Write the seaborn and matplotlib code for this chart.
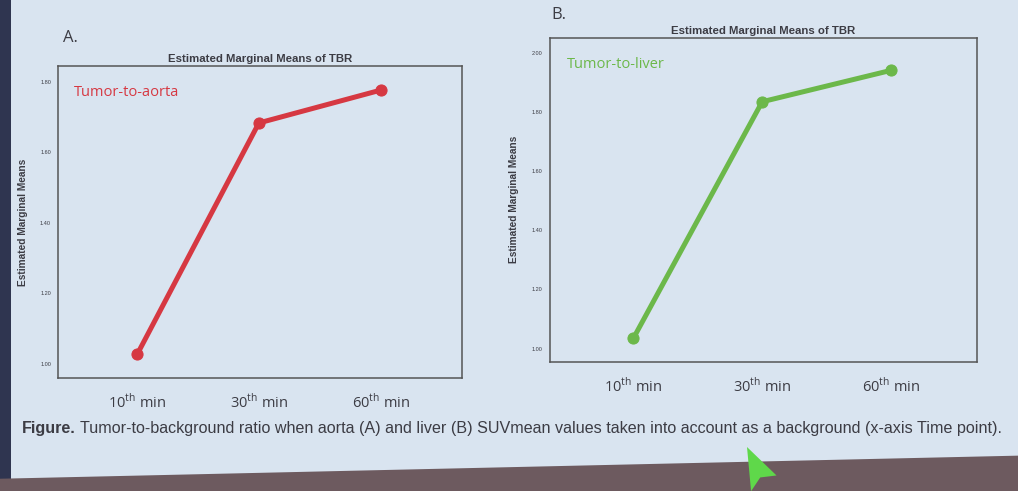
import numpy as np
import pandas as pd
import matplotlib
matplotlib.use("Agg")
import matplotlib.pyplot as plt
from matplotlib.patches import Polygon
import seaborn as sns

# data
time_points = [r"10$^{\mathrm{th}}$ min", r"30$^{\mathrm{th}}$ min", r"60$^{\mathrm{th}}$ min"]
aorta_tbr = [1.027, 1.683, 1.776]
liver_tbr = [1.035, 1.834, 1.940]
aorta_ticks = [1.00, 1.20, 1.40, 1.60, 1.80]
liver_ticks = [1.00, 1.20, 1.40, 1.60, 1.80, 2.00]

sns.set_style("white")
plt.rcParams['font.family'] = ['Liberation Sans', 'DejaVu Sans']
plt.rcParams['mathtext.fontset'] = 'custom'
plt.rcParams['mathtext.rm'] = 'Open Sans'

bg = "#d9e4f0"
red = "#d63842"
green = "#6cb84a"
txt = "#3c3c44"

fig = plt.figure(figsize=(10.18, 4.91), dpi=100)
fig.patch.set_facecolor(bg)

# photo borders: dark left edge and brown bottom edge
fig.patches.append(Polygon([[0, 0], [0.011, 0], [0.011, 1], [0, 1]], closed=True,
                           transform=fig.transFigure, facecolor="#2f3550", edgecolor="none"))
fig.patches.append(Polygon([[0, 0], [1, 0], [1, 0.072], [0, 0.025]], closed=True,
                           transform=fig.transFigure, facecolor="#6d5a5f", edgecolor="none"))
# mouse pointer
px, py = 747 / 1018, 1 - 447 / 491
fig.patches.append(Polygon([[px, py], [px + 0.004, py - 0.09], [px + 0.013, py - 0.062],
                            [px + 0.029, py - 0.058]], closed=True,
                           transform=fig.transFigure, facecolor="#5fd84a", edgecolor="none"))


def panel(rect, values, ticks, ylim, color, label):
    ax = fig.add_axes(rect)
    ax.set_facecolor(bg)
    df = pd.DataFrame({"time": np.arange(len(time_points)), "TBR": values})
    sns.lineplot(data=df, x="time", y="TBR", ax=ax, color=color, linewidth=3.6,
                 marker="o", markersize=8, markeredgecolor=color)
    ax.set_xlim(-0.65, 2.67)
    ax.set_ylim(*ylim)
    ax.set_xticks(range(len(time_points)))
    ax.set_xticklabels(time_points, fontsize=10.5, color=txt, family="Open Sans")
    ax.set_yticks(ticks)
    ax.set_yticklabels([f"{t:.2f}" for t in ticks], fontsize=4, color=txt)
    ax.tick_params(axis="x", length=4, pad=7, color="#555")
    ax.tick_params(axis="y", length=4, pad=1, color="#555")
    for s in ax.spines.values():
        s.set_color("#555")
        s.set_linewidth(1.1)
    ax.set_xlabel("")
    ax.set_ylabel("Estimated Marginal Means", fontsize=7.3, fontweight="bold", color=txt, labelpad=9)
    ax.set_title("Estimated Marginal Means of TBR", fontsize=8.2, fontweight="bold", color=txt, pad=3)
    ax.text(0.04, 0.94, label, transform=ax.transAxes, color=color, fontsize=10.5,
            va="top", family="Open Sans")
    return ax


panel([0.057, 0.230, 0.397, 0.636], aorta_tbr, aorta_ticks, (0.96, 1.845), red, "Tumor-to-aorta")
panel([0.540, 0.263, 0.420, 0.660], liver_tbr, liver_ticks, (0.955, 2.05), green, "Tumor-to-liver")

fig.text(63 / 1018, 1 - 38 / 491, "A.", fontsize=12, color=txt, va="center", family="Open Sans")
fig.text(551 / 1018, 1 - 15 / 491, "B.", fontsize=12, color=txt, va="center", family="Open Sans")

# caption: bold lead-in followed by the sentence
cap_y = 1 - 428 / 491
cap_size = 11.6
lead = fig.text(22 / 1018, cap_y, "Figure.", fontsize=cap_size, fontweight="bold",
                color=txt, va="center")
fig.canvas.draw()
bb = lead.get_window_extent(renderer=fig.canvas.get_renderer())
fig.text((bb.x1 + 4) / 1018, cap_y,
         "Tumor-to-background ratio when aorta (A) and liver (B) SUVmean values taken into account as a background (x-axis Time point).",
         fontsize=cap_size, color=txt, va="center")

fig.savefig("out.png", dpi=100, facecolor=fig.get_facecolor())
